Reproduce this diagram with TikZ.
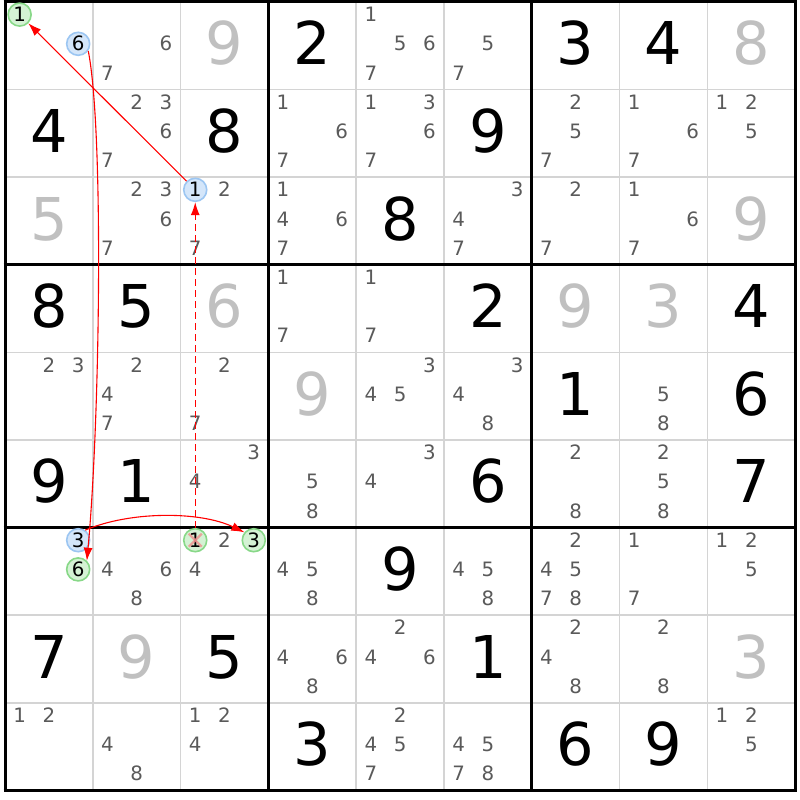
\documentclass[tikz,border=0pt]{standalone}
\usepackage{fontspec}
\setmainfont{DejaVu Sans}
\usetikzlibrary{arrows.meta}
\definecolor{candgray}{HTML}{5A5A5A}
\definecolor{placedgray}{HTML}{C0C0C0}
\definecolor{thingray}{HTML}{D4D4D4}
\definecolor{bluefill}{HTML}{D4E6FA}
\definecolor{bluedraw}{HTML}{9CC6F2}
\definecolor{greenfill}{HTML}{D4F2D4}
\definecolor{greendraw}{HTML}{88D888}
\definecolor{xred}{HTML}{F08A8A}
\definecolor{linkred}{HTML}{FF0000}
\tikzset{
  cand/.style={inner sep=0pt, text height=14.3pt, text depth=0pt, font=\fontsize{19.8}{20}\selectfont, text=candgray},
  given/.style={inner sep=0pt, text height=43pt, text depth=0pt, font=\fontsize{59}{60}\selectfont, text=black},
  placedv/.style={given, text=placedgray},
  hl/.style={cand, circle, minimum size=23pt, line width=1.6pt, text=black},
  hlblue/.style={hl, fill=bluefill, draw=bluedraw},
  hlgreen/.style={hl, fill=greenfill, draw=greendraw},
  link/.style={draw=linkred, line width=1.1pt, -{Latex[length=13pt,width=9pt,fill=linkred]}},
  dashedlink/.style={link, line width=1.3pt, dash pattern=on 7pt off 4pt},
  thinline/.style={thingray, line width=1.5pt},
  thickline/.style={black, line width=3pt},
  xmark/.style={xred, line width=2.2pt, opacity=0.75}
}
\begin{document}
\begin{tikzpicture}[x=1pt,y=-1pt]
\useasboundingbox (0,0) rectangle (800,800);
\fill[white] (0,0) rectangle (800,800);
% thin grid lines
\foreach \i in {1,2,4,5,7,8}{
  \draw[thinline] ({5+\i*87.8},2) -- ({5+\i*87.8},790);
  \draw[thinline] (5,{2+\i*87.6}) -- (795,{2+\i*87.6});
}
% thick grid lines
\foreach \i in {0,3,6,9}{
  \draw[thickline] ({5+\i*87.8},0.5) -- ({5+\i*87.8},791.5);
  \draw[thickline] (3.5,{2+\i*87.6}) -- (796.5,{2+\i*87.6});
}
% given digits
\foreach \r/\c/\v in {1/4/2,1/7/3,1/8/4,2/1/4,2/3/8,2/6/9,3/5/8,4/1/8,4/2/5,4/6/2,4/9/4,5/7/1,5/9/6,6/1/9,6/2/1,6/6/6,6/9/7,7/5/9,8/1/7,8/3/5,8/6/1,9/4/3,9/7/6,9/8/9}{
  \node[given] (g\r\c) at ({5+(\c-0.5)*87.8},{2+(\r-0.5)*87.6-2.5}) {\v};
}
% placed digits
\foreach \r/\c/\v in {1/3/9,1/9/8,3/1/5,3/9/9,4/3/6,4/7/9,4/8/3,5/4/9,8/2/9,8/9/3}{
  \node[placedv] (g\r\c) at ({5+(\c-0.5)*87.8},{2+(\r-0.5)*87.6-2.5}) {\v};
}
% candidates
\foreach \r/\c/\ds in {1/1/{1,6},1/2/{6,7},1/5/{1,5,6,7},1/6/{5,7},
  2/2/{2,3,6,7},2/4/{1,6,7},2/5/{1,3,6,7},2/7/{2,5,7},2/8/{1,6,7},2/9/{1,2,5},
  3/2/{2,3,6,7},3/3/{1,2,7},3/4/{1,4,6,7},3/6/{3,4,7},3/7/{2,7},3/8/{1,6,7},
  4/4/{1,7},4/5/{1,7},
  5/1/{2,3},5/2/{2,4,7},5/3/{2,7},5/5/{3,4,5},5/6/{3,4,8},5/8/{5,8},
  6/3/{3,4},6/4/{5,8},6/5/{3,4},6/7/{2,8},6/8/{2,5,8},
  7/1/{3,6},7/2/{4,6,8},7/3/{1,2,3,4},7/4/{4,5,8},7/6/{4,5,8},7/7/{2,4,5,7,8},7/8/{1,7},7/9/{1,2,5},
  8/4/{4,6,8},8/5/{2,4,6},8/7/{2,4,8},8/8/{2,8},
  9/1/{1,2},9/2/{4,8},9/3/{1,2,4},9/5/{2,4,5,7},9/6/{4,5,7,8},9/9/{1,2,5}}{
  \foreach \d in \ds {
    \pgfmathtruncatemacro\dc{mod(\d-1,3)}
    \pgfmathtruncatemacro\dr{div(\d-1,3)}
    \node[cand] (k\r\c\d) at ({5+(\c-1)*87.8+(\dc+0.5)*29.27},{2+(\r-1)*87.6+(\dr+0.5)*29.2-2}) {\d};
  }
}
% highlighted candidates
\node[hlgreen] (h111) at (k111) {1};
\node[hlblue]  (h116) at (k116) {6};
\node[hlblue]  (h331) at (k331) {1};
\node[hlblue]  (h713) at (k713) {3};
\node[hlgreen] (h716) at (k716) {6};
\node[hlgreen] (h731) at (k731) {1};
\node[hlgreen] (h733) at (k733) {3};
% eliminated mark
\draw[xmark] ([shift={(-6.5,-6.5)}]h731.center) -- ([shift={(6.5,6.5)}]h731.center);
\draw[xmark] ([shift={(-6.5,6.5)}]h731.center) -- ([shift={(6.5,-6.5)}]h731.center);
% links
\draw[link] (h331) -- (h111);
\draw[link] (h116.-35) .. controls (104,130) and (100,420) .. (h716.45);
\draw[dashedlink] (h731) -- (h331);
\draw[link] (h713.55) .. controls (130,511) and (200,511) .. (h733.140);
\end{tikzpicture}
\end{document}
